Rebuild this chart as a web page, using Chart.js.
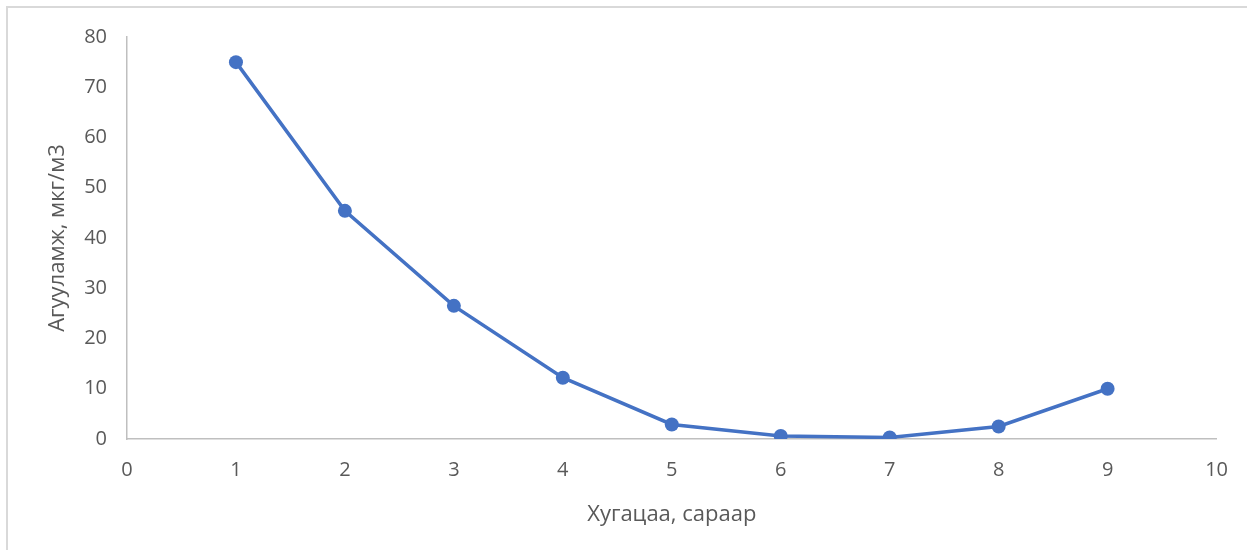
<!DOCTYPE html>
<html>
<head>
<meta charset="utf-8">
<script src="https://cdn.jsdelivr.net/npm/chart.js@4"></script>
<style>
  html, body { margin: 0; padding: 0; background: #fff; overflow: hidden; }
  #wrap { position: relative; width: 1247px; height: 550px; }
  #frame {
    position: absolute; left: 6px; top: 6px; width: 1300px; height: 600px;
    border: 2px solid #d9d9d9; box-sizing: border-box;
  }
  canvas { position: absolute; left: 0; top: 0; }
</style>
</head>
<body>
<div id="wrap">
  <div id="frame"></div>
  <canvas id="myChart" width="1247" height="550"></canvas>
</div>
<script>
const months = [1, 2, 3, 4, 5, 6, 7, 8, 9];
const concentration = [75, 45.4, 26.5, 12.2, 2.9, 0.6, 0.3, 2.5, 10];
const xTitle = "Хугацаа, сараар";
const yTitle = "Агууламж, мкг/м3";

const points = months.map((m, i) => ({x: m, y: concentration[i]}));
const fontFamily = "'Open Sans', 'Noto Sans', sans-serif";

new Chart("myChart", {
  type: "scatter",
  data: {
    datasets: [{
      data: points,
      showLine: true,
      borderColor: "#4472C4",
      backgroundColor: "#4472C4",
      borderWidth: 3.5,
      pointRadius: 7,
      pointHoverRadius: 7,
      pointBorderWidth: 0
    }]
  },
  options: {
    responsive: false,
    animation: false,
    layout: { padding: { left: 0, right: 25, top: 37, bottom: 0 } },
    plugins: { legend: { display: false }, tooltip: { enabled: false } },
    scales: {
      x: {
        type: "linear",
        min: 0, max: 10,
        afterFit: s => { s.height = 111; },
        ticks: { stepSize: 1, color: "#595959", font: { family: fontFamily, size: 20 }, padding: 19 },
        grid: { drawOnChartArea: false, drawTicks: false },
        border: { color: "#bfbfbf", width: 1.5 },
        title: {
          display: true, text: xTitle, color: "#595959",
          font: { family: fontFamily, size: 22 },
          padding: { top: 4, bottom: 22 }
        }
      },
      y: {
        min: 0, max: 80,
        afterFit: s => { s.width = 127; },
        ticks: { stepSize: 10, color: "#595959", font: { family: fontFamily, size: 20 }, padding: 20 },
        grid: { drawOnChartArea: false, drawTicks: false },
        border: { color: "#bfbfbf", width: 1.5 },
        title: {
          display: true, text: yTitle, color: "#595959",
          font: { family: fontFamily, size: 22 },
          padding: { top: 45, bottom: 0 }
        }
      }
    }
  }
});
</script>
</body>
</html>
